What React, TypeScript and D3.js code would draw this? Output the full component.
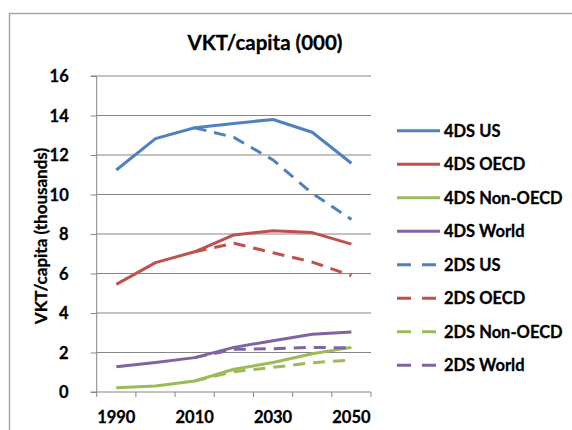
import React, { useEffect, useRef } from "react";
import * as d3 from "d3";

const years = ["1990", "2000", "2010", "2020", "2030", "2040", "2050"];
const tickLabels = ["1990", "", "2010", "", "2030", "", "2050"];
const yTicks = [0, 2, 4, 6, 8, 10, 12, 14, 16];

const us4 = [11.24, 12.83, 13.38, 13.6, 13.8, 13.15, 11.58];
const oecd4 = [5.45, 6.55, 7.1, 7.95, 8.17, 8.07, 7.49];
const nonOecd4 = [0.22, 0.3, 0.56, 1.15, 1.49, 1.94, 2.26];
const world4 = [1.28, 1.49, 1.74, 2.26, 2.6, 2.92, 3.04];
const us2 = [null, null, 13.38, 12.89, 11.75, 10.06, 8.74];
const oecd2 = [null, null, 7.1, 7.53, 7.05, 6.58, 5.89];
const nonOecd2 = [null, null, 0.56, 1.03, 1.25, 1.48, 1.62];
const world2 = [null, null, 1.74, 2.16, 2.19, 2.26, 2.23];

const seriesNames = ["4DS US", "4DS OECD", "4DS Non-OECD", "4DS World", "2DS US", "2DS OECD", "2DS Non-OECD", "2DS World"];
const seriesValues = [us4, oecd4, nonOecd4, world4, us2, oecd2, nonOecd2, world2];
const seriesColors = ["#4F81BD", "#C0504D", "#9BBB59", "#8064A2", "#4F81BD", "#C0504D", "#9BBB59", "#8064A2"];
const seriesDashed = [false, false, false, false, true, true, true, true];

const FONT = "Lato, 'Open Sans', sans-serif";

export default function App() {
  const ref = useRef<SVGSVGElement | null>(null);

  useEffect(() => {
    const svg = d3.select(ref.current);
    svg.selectAll("*").remove();

    const left = 96.7, right = 371, top = 76, bottom = 392;
    const x = d3.scaleBand().domain(years).range([left, right]).padding(0);
    const y = d3.scaleLinear().domain([0, 16]).range([bottom, top]);

    // outer frame
    svg.append("path")
      .attr("d", `M9.5,430 V13.5 H572`)
      .attr("fill", "none")
      .attr("stroke", "#A6A6A6")
      .attr("stroke-width", 1.5);

    // title
    svg.append("text")
      .attr("x", 265).attr("y", 50)
      .attr("text-anchor", "middle")
      .attr("font-family", FONT).attr("font-weight", 700).attr("font-size", 20.5)
      .attr("fill", "#000").attr("stroke", "#000").attr("stroke-width", 0.3)
      .text("VKT/capita (000)");

    // gridlines
    const g = svg.append("g");
    g.selectAll("line.grid").data(yTicks.filter(t => t > 0)).enter().append("line")
      .attr("x1", left).attr("x2", right)
      .attr("y1", d => y(d)).attr("y2", d => y(d))
      .attr("stroke", "#868686").attr("stroke-width", 1);

    // y axis
    const yAxis = d3.axisLeft(y).tickValues(yTicks).tickSize(6).tickPadding(22 - 6).tickFormat(d3.format("d"));
    const ya = svg.append("g").attr("transform", `translate(${left},0)`).call(yAxis);
    ya.select(".domain").attr("stroke", "#868686").attr("d", `M-6,${y(0)}H0V${y(16)}H-6`);
    ya.selectAll(".tick line").attr("stroke", "#868686");
    ya.selectAll(".tick text")
      .attr("font-family", FONT).attr("font-weight", 700).attr("font-size", 16.5)
      .attr("fill", "#000").attr("stroke", "#000").attr("stroke-width", 0.3)
      .attr("x", -28).attr("dy", "0.36em");

    // x axis
    const xa = svg.append("g").attr("transform", `translate(0,${bottom})`);
    xa.append("line").attr("x1", left).attr("x2", right).attr("y1", 0).attr("y2", 0).attr("stroke", "#868686");
    const bounds = years.map(d => x(d)!).concat([right]);
    xa.selectAll("line.t").data(bounds).enter().append("line")
      .attr("x1", d => d).attr("x2", d => d).attr("y1", 0).attr("y2", 5)
      .attr("stroke", "#868686");
    xa.selectAll("text").data(years).enter().append("text")
      .attr("x", d => x(d)! + x.bandwidth() / 2)
      .attr("y", 31)
      .attr("text-anchor", "middle")
      .attr("font-family", FONT).attr("font-weight", 700).attr("font-size", 16.5)
      .attr("fill", "#000").attr("stroke", "#000").attr("stroke-width", 0.3)
      .text((d, i) => tickLabels[i]);

    // y axis title
    svg.append("text")
      .attr("transform", `translate(47,236) rotate(-90)`)
      .attr("text-anchor", "middle")
      .attr("font-family", FONT).attr("font-weight", 700).attr("font-size", 17)
      .attr("fill", "#000").attr("stroke", "#000").attr("stroke-width", 0.3)
      .text("VKT/capita (thousands)");

    // lines
    const line = d3.line<number | null>()
      .defined(d => d !== null)
      .x((d, i) => x(years[i])! + x.bandwidth() / 2)
      .y(d => y(d as number));

    seriesValues.forEach((vals, i) => {
      svg.append("path")
        .attr("d", line(vals as (number | null)[]))
        .attr("fill", "none")
        .attr("stroke", seriesColors[i])
        .attr("stroke-width", 3)
        .attr("stroke-linejoin", "round")
        .attr("stroke-dasharray", seriesDashed[i] ? "12,8" : null);
    });

    // legend
    const lg = svg.append("g");
    seriesNames.forEach((name, i) => {
      const ly = 130.7 + i * 33.5;
      lg.append("line")
        .attr("x1", 397).attr("x2", 440).attr("y1", ly).attr("y2", ly)
        .attr("stroke", seriesColors[i]).attr("stroke-width", 3)
        .attr("stroke-dasharray", seriesDashed[i] ? "14,11" : null);
      lg.append("text")
        .attr("x", 444).attr("y", ly).attr("dy", "0.36em")
        .attr("font-family", FONT).attr("font-weight", 700).attr("font-size", 16.5)
        .attr("fill", "#000").attr("stroke", "#000").attr("stroke-width", 0.3)
        .text(name);
    });
  }, []);

  return (
    <svg ref={ref} width={572} height={430} style={{ position: "absolute", left: 0, top: 0, background: "#fff" }} />
  );
}
